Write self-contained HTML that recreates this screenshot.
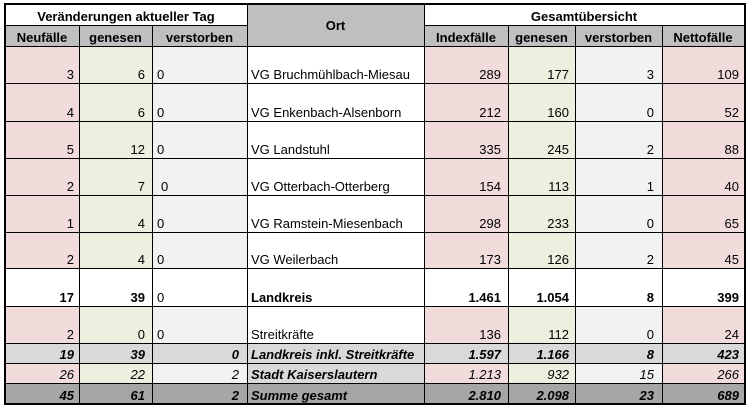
<!DOCTYPE html>
<html><head><meta charset="utf-8">
<style>
html,body{margin:0;padding:0;background:#fff;}
body{width:756px;height:414px;position:relative;overflow:hidden;font-family:"Liberation Sans",Arial,sans-serif;font-size:13px;color:#000;}
.x{position:absolute;display:flex;align-items:flex-end;box-sizing:border-box;padding-bottom:1px;line-height:15px;white-space:nowrap;}
.R{justify-content:flex-end;}
.Lf{justify-content:flex-start;}
.C{justify-content:center;}
.a{left:5px;width:74px;padding-right:5px;}
.b{left:79px;width:73px;padding-right:7px;}
.c{left:152px;width:95px;}
.c.R{padding-right:8px;}
.c.Lf{padding-left:5px;}
.d{left:247px;width:177px;padding-left:4px;}
.e{left:424px;width:84px;padding-right:7px;}
.f{left:508px;width:67px;padding-right:6px;}
.g{left:575px;width:87px;padding-right:8px;}
.h{left:662px;width:82px;padding-right:5px;}
.r0{top:4px;height:21px}.r1{top:25px;height:21px}.r2{top:46px;height:37px}.r3{top:83px;height:38px}
.r4{top:121px;height:37px}.r5{top:158px;height:37px}.r6{top:195px;height:37px}.r7{top:232px;height:36px}
.r8{top:268px;height:38px}.r9{top:306px;height:37px}.r10{top:343px;height:20px}.r11{top:363px;height:20px}.r12{top:383px;height:21px}
.P{background:#f2dcdb}.G{background:#ebf1de}.Q{background:#f2f2f2}.W{background:#fff}.H{background:#bfbfbf}.Lg{background:#d9d9d9}.S{background:#a6a6a6}
.B{font-weight:bold}.I{font-style:italic}
.ln{position:absolute;background:#000;}
</style></head><body>

<!-- headers -->
<div class="x C W B r0" style="left:5px;width:242px;">Veränderungen aktueller Tag</div>
<div class="x C H B" style="left:247px;width:177px;top:4px;height:42px;align-items:center;padding-bottom:0;">Ort</div>
<div class="x C W B r0" style="left:424px;width:320px;">Gesamtübersicht</div>
<div class="x C H B r1" style="left:5px;width:74px;">Neufälle</div>
<div class="x C H B r1" style="left:79px;width:73px;">genesen</div>
<div class="x C H B r1" style="left:152px;width:95px;">verstorben</div>
<div class="x C H B r1" style="left:424px;width:84px;">Indexfälle</div>
<div class="x C H B r1" style="left:508px;width:67px;">genesen</div>
<div class="x C H B r1" style="left:575px;width:87px;">verstorben</div>
<div class="x C H B r1" style="left:662px;width:82px;">Nettofälle</div>

<!-- row 2 -->
<div class="x R a P r2">3</div><div class="x R b G r2">6</div><div class="x Lf c Q r2">0</div><div class="x Lf d W r2">VG Bruchmühlbach-Miesau</div>
<div class="x R e P r2">289</div><div class="x R f G r2">177</div><div class="x R g Q r2">3</div><div class="x R h P r2">109</div>
<!-- row 3 -->
<div class="x R a P r3">4</div><div class="x R b G r3">6</div><div class="x Lf c Q r3">0</div><div class="x Lf d W r3">VG Enkenbach-Alsenborn</div>
<div class="x R e P r3">212</div><div class="x R f G r3">160</div><div class="x R g Q r3">0</div><div class="x R h P r3">52</div>
<!-- row 4 -->
<div class="x R a P r4">5</div><div class="x R b G r4">12</div><div class="x Lf c Q r4">0</div><div class="x Lf d W r4">VG Landstuhl</div>
<div class="x R e P r4">335</div><div class="x R f G r4">245</div><div class="x R g Q r4">2</div><div class="x R h P r4">88</div>
<!-- row 5 -->
<div class="x R a P r5">2</div><div class="x R b G r5">7</div><div class="x Lf c Q r5" style="padding-left:9px;">0</div><div class="x Lf d W r5">VG Otterbach-Otterberg</div>
<div class="x R e P r5">154</div><div class="x R f G r5">113</div><div class="x R g Q r5">1</div><div class="x R h P r5">40</div>
<!-- row 6 -->
<div class="x R a P r6">1</div><div class="x R b G r6">4</div><div class="x Lf c Q r6">0</div><div class="x Lf d W r6">VG Ramstein-Miesenbach</div>
<div class="x R e P r6">298</div><div class="x R f G r6">233</div><div class="x R g Q r6">0</div><div class="x R h P r6">65</div>
<!-- row 7 -->
<div class="x R a P r7">2</div><div class="x R b G r7">4</div><div class="x Lf c Q r7">0</div><div class="x Lf d W r7">VG Weilerbach</div>
<div class="x R e P r7">173</div><div class="x R f G r7">126</div><div class="x R g Q r7">2</div><div class="x R h P r7">45</div>
<!-- row 8 Landkreis -->
<div class="x R a W B r8">17</div><div class="x R b W B r8">39</div><div class="x Lf c W r8">0</div><div class="x Lf d W B r8">Landkreis</div>
<div class="x R e W B r8">1.461</div><div class="x R f W B r8">1.054</div><div class="x R g W B r8">8</div><div class="x R h W B r8">399</div>
<!-- row 9 Streitkräfte -->
<div class="x R a P r9">2</div><div class="x R b G r9">0</div><div class="x Lf c Q r9">0</div><div class="x Lf d W r9">Streitkräfte</div>
<div class="x R e P r9">136</div><div class="x R f G r9">112</div><div class="x R g Q r9">0</div><div class="x R h P r9">24</div>
<!-- row 10 Landkreis inkl -->
<div class="x R a Lg B I r10">19</div><div class="x R b Lg B I r10">39</div><div class="x R c Lg B I r10">0</div><div class="x Lf d Lg B I r10">Landkreis inkl. Streitkräfte</div>
<div class="x R e Lg B I r10">1.597</div><div class="x R f Lg B I r10">1.166</div><div class="x R g Lg B I r10">8</div><div class="x R h Lg B I r10">423</div>
<!-- row 11 Stadt KL -->
<div class="x R a P I r11">26</div><div class="x R b G I r11">22</div><div class="x R c Q I r11">2</div><div class="x Lf d Lg B I r11">Stadt Kaiserslautern</div>
<div class="x R e P I r11">1.213</div><div class="x R f G I r11">932</div><div class="x R g Q I r11">15</div><div class="x R h P I r11">266</div>
<!-- row 12 Summe -->
<div class="x R a S B I r12">45</div><div class="x R b S B I r12">61</div><div class="x R c S B I r12">2</div><div class="x Lf d S B I r12">Summe gesamt</div>
<div class="x R e S B I r12">2.810</div><div class="x R f S B I r12">2.098</div><div class="x R g S B I r12">23</div><div class="x R h S B I r12">689</div>

<!-- grid lines -->
<div class="ln" style="left:5px;top:25px;width:242px;height:1px"></div>
<div class="ln" style="left:424px;top:25px;width:320px;height:1px"></div>
<div class="ln" style="left:5px;top:46px;width:739px;height:1px"></div>
<div class="ln" style="left:5px;top:83px;width:739px;height:1px"></div>
<div class="ln" style="left:5px;top:121px;width:739px;height:1px"></div>
<div class="ln" style="left:5px;top:158px;width:739px;height:1px"></div>
<div class="ln" style="left:5px;top:195px;width:739px;height:1px"></div>
<div class="ln" style="left:5px;top:232px;width:739px;height:1px"></div>
<div class="ln" style="left:5px;top:268px;width:739px;height:1px"></div>
<div class="ln" style="left:5px;top:306px;width:739px;height:1px"></div>
<div class="ln" style="left:5px;top:343px;width:739px;height:1px"></div>
<div class="ln" style="left:5px;top:363px;width:739px;height:1px"></div>
<div class="ln" style="left:5px;top:383px;width:739px;height:1px"></div>

<div class="ln" style="left:79px;top:25px;width:1px;height:379px"></div>
<div class="ln" style="left:152px;top:25px;width:1px;height:379px"></div>
<div class="ln" style="left:247px;top:4px;width:1px;height:400px"></div>
<div class="ln" style="left:424px;top:4px;width:1px;height:400px"></div>
<div class="ln" style="left:508px;top:25px;width:1px;height:379px"></div>
<div class="ln" style="left:575px;top:25px;width:1px;height:379px"></div>
<div class="ln" style="left:662px;top:25px;width:1px;height:379px"></div>

<!-- outer border -->
<div class="ln" style="left:4px;top:3px;width:742px;height:2px"></div>
<div class="ln" style="left:4px;top:403px;width:742px;height:2px"></div>
<div class="ln" style="left:4px;top:3px;width:2px;height:402px"></div>
<div class="ln" style="left:744px;top:3px;width:2px;height:402px"></div>
</body></html>
